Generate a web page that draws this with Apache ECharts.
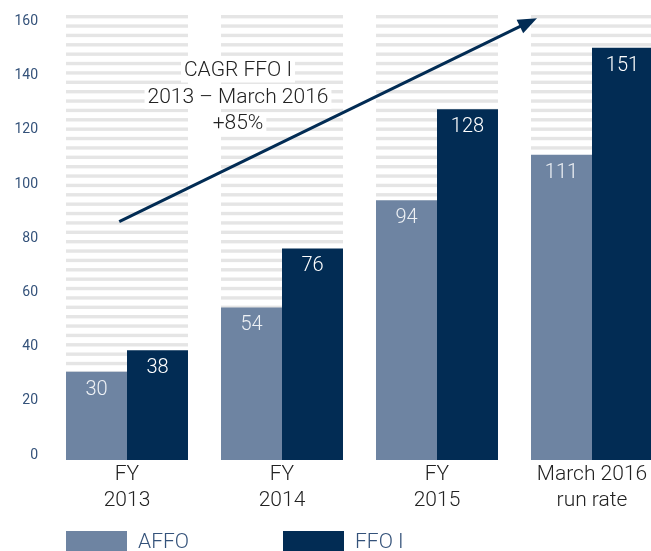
<!DOCTYPE html>
<html>
<head>
<meta charset="utf-8">
<script src="https://cdn.jsdelivr.net/npm/echarts@6/dist/echarts.min.js"></script>
<style>
  html, body { margin: 0; padding: 0; background: #fff; }
  #chart { width: 651px; height: 551px; }
</style>
</head>
<body>
<div id="chart"></div>
<script>
// Categories and values
const categories = ['FY\n2013', 'FY\n2014', 'FY\n2015', 'March 2016\nrun rate'];
const affo = [30, 54, 94, 111];
const ffoI = [38, 76, 128, 151];

// Value-axis ticks
const yMin = 0;
const yMax = 160;
const yStep = 20;

// CAGR annotation: text lines and arrow ends in data space (category index, value)
const cagrLines = ['CAGR FFO I', '2013 – March 2016', '+85%'];
const arrowFrom = [-0.05, 86];
const arrowTo = [2.645, 162];

const COLOR_AFFO = '#6e84a2';
const COLOR_FFO = '#022c54';
const FONT = 'Roboto, "Liberation Sans", sans-serif';
const BAR_FOOT = 8;          // bars run a few pixels below the zero line
const CATEGORY_GAP = 0.213;  // share of each band left empty between groups

// Horizontal striped fill for the column backgrounds
function stripePattern() {
  const c = document.createElement('canvas');
  c.width = 8; c.height = 75;
  const g = c.getContext('2d');
  g.fillStyle = '#e5e5e5';
  for (let k = 0; k < 8; k++) g.fillRect(0, 5.6 + 9.375 * k, 8, 3.4);
  return c;
}
const stripes = { image: stripePattern(), repeat: 'repeat' };

// Grouped bar drawn through the category / value axes; side -1 = left half, +1 = right half
function barSeries(name, values, color, side, labelColor) {
  return {
    type: 'custom',
    name: name,
    xAxisIndex: 0,
    yAxisIndex: 0,
    itemStyle: { color: color },
    data: values.map((v, i) => [i, v]),
    encode: { x: 0, y: 1 },
    renderItem: function (params, api) {
      const i = api.value(0);
      const v = api.value(1);
      const base = api.coord([i, 0]);
      const top = api.coord([i, v]);
      const band = api.size([1, 0])[0];
      const bw = band * (1 - CATEGORY_GAP) / 2;
      const x0 = side < 0 ? base[0] - bw : base[0];
      const cs = params.coordSys;
      const bottom = base[1] + BAR_FOOT;
      return {
        type: 'group',
        children: [
          {
            type: 'rect',
            shape: { x: x0, y: cs.y, width: bw, height: bottom - cs.y },
            style: { fill: stripes },
            z2: 0
          },
          {
            type: 'rect',
            shape: { x: x0, y: top[1], width: bw, height: bottom - top[1] },
            style: { fill: color },
            z2: 1,
            textContent: {
              style: {
                text: String(v),
                fill: labelColor,
                fontFamily: FONT,
                fontSize: 20,
                fontWeight: 300
              }
            },
            textConfig: { position: 'insideTop', distance: 8 }
          }
        ]
      };
    }
  };
}

// Growth arrow from one data point to another
const arrowSeries = {
  type: 'custom',
  name: 'CAGR',
  xAxisIndex: 2,
  yAxisIndex: 0,
  silent: true,
  z: 5,
  data: [[arrowFrom[0], arrowFrom[1], arrowTo[0], arrowTo[1]]],
  encode: { x: [0, 2], y: [1, 3] },
  renderItem: function (params, api) {
    const p1 = api.coord([api.value(0), api.value(1)]);
    const p2 = api.coord([api.value(2), api.value(3)]);
    const dx = p2[0] - p1[0], dy = p2[1] - p1[1];
    const len = Math.sqrt(dx * dx + dy * dy);
    const ux = dx / len, uy = dy / len;
    const headLen = 19, headHalf = 7.5;
    const bx = p2[0] - ux * headLen, by = p2[1] - uy * headLen;
    return {
      type: 'group',
      children: [
        {
          type: 'line',
          shape: { x1: p1[0], y1: p1[1], x2: bx + ux * 2, y2: by + uy * 2 },
          style: { stroke: COLOR_FFO, lineWidth: 3 }
        },
        {
          type: 'polygon',
          shape: {
            points: [
              [p2[0], p2[1]],
              [bx - uy * headHalf, by + ux * headHalf],
              [bx + uy * headHalf, by - ux * headHalf]
            ]
          },
          style: { fill: COLOR_FFO }
        }
      ]
    };
  }
};

const chart = echarts.init(document.getElementById('chart'), null, { renderer: 'canvas' });

chart.setOption({
  animation: false,
  grid: [
    { left: 49.5, width: 620, top: 15, height: 437, outerBoundsMode: 'none' },     // bars
    { left: 50, width: 10, top: 21.5, height: 433.5, outerBoundsMode: 'none' }     // value-axis labels
  ],
  xAxis: [
    {
      type: 'category', gridIndex: 0, data: categories,
      axisLine: { show: false }, axisTick: { show: false },
      axisLabel: { margin: 10, fontFamily: FONT, fontSize: 21, fontWeight: 300, color: '#222', lineHeight: 26 }
    },
    { type: 'category', gridIndex: 1, data: [''], show: false },
    { type: 'value', gridIndex: 0, min: -0.5, max: 3.5, show: false }
  ],
  yAxis: [
    { type: 'value', gridIndex: 0, min: 0, max: 163.2, show: false },
    {
      type: 'value', gridIndex: 1, min: yMin, max: yMax, interval: yStep,
      axisLine: { show: false }, axisTick: { show: false }, splitLine: { show: false },
      axisLabel: { margin: 12, fontFamily: FONT, fontSize: 14, color: '#34527a' }
    }
  ],
  legend: [
    {
      data: ['AFFO'], left: 66, top: 531, padding: 0, itemWidth: 61, itemHeight: 24, itemGap: 0,
      icon: 'rect',
      textStyle: { fontFamily: FONT, fontSize: 21, fontWeight: 300, color: '#34527a', padding: [0, 0, 0, 6] }
    },
    {
      data: ['FFO I'], left: 283, top: 531, padding: 0, itemWidth: 61, itemHeight: 24, itemGap: 0,
      icon: 'rect',
      textStyle: { fontFamily: FONT, fontSize: 21, fontWeight: 300, color: '#34527a', padding: [0, 0, 0, 6] }
    }
  ],
  series: [
    barSeries('AFFO', affo, COLOR_AFFO, -1, '#eef1f5'),
    barSeries('FFO I', ffoI, COLOR_FFO, 1, '#ffffff'),
    arrowSeries
  ],
  graphic: cagrLines.map((t, i) => ({
    type: 'text',
    x: 238, y: 71 + i * 26.5,
    z: 100,
    style: {
      text: t,
      align: 'center',
      verticalAlign: 'middle',
      fontFamily: FONT, fontSize: 21, fontWeight: 300,
      fill: '#222',
      backgroundColor: '#fff',
      padding: [1, 3, 1, 3]
    }
  }))
});
</script>
</body>
</html>
